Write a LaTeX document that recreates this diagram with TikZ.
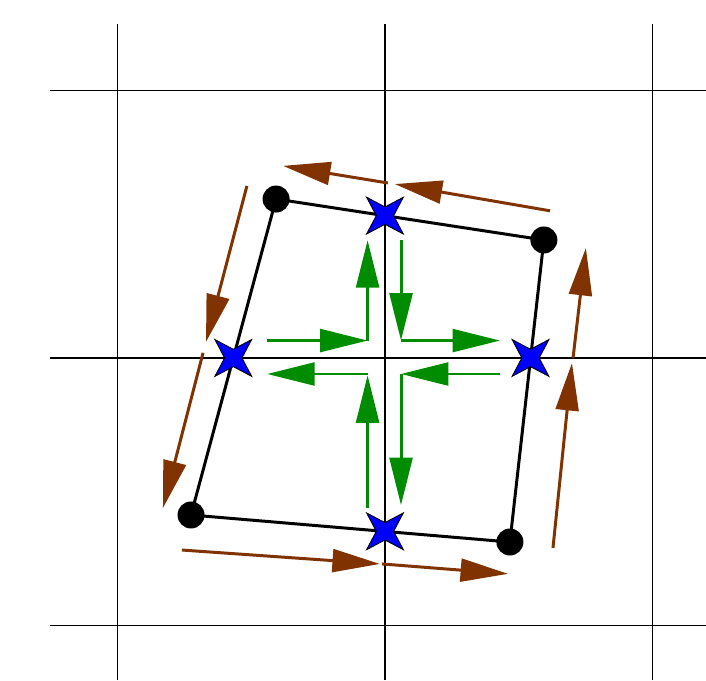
\documentclass[tikz,border=0pt]{standalone}
\usetikzlibrary{arrows.meta}
\usetikzlibrary{calc}
\usetikzlibrary{shapes.geometric}
\usetikzlibrary{backgrounds}
\definecolor{flux}{RGB}{128,51,0}
\definecolor{grad}{RGB}{0,140,0}

\begin{document}
\begin{tikzpicture}[x=5.35cm, y=5.35cm,
        corner/.style={circle, fill=black, inner sep=0pt, minimum size=0.54cm},
        face/.style={star, star points=4, star point ratio=3, shape border rotate=45,
            fill=blue, draw=black, line width=0.5pt, inner sep=0pt, minimum size=1.04cm},
        fluxarrow/.style={flux, line width=1.7pt, -{Triangle[length=27pt, width=13pt]}},
        gradarrow/.style={grad, line width=1.7pt, -{Triangle[length=27pt, width=13pt]}}]
        \useasboundingbox (-1.439,-1.204) rectangle (1.2,1.338);
        % cell corners
        \node[corner] (tl) at (-0.407,0.594) {};
        \node[corner] (tr) at (0.594,0.441) {};
        \node[corner] (br) at (0.467,-0.688) {};
        \node[corner] (bl) at (-0.725,-0.587) {};
        % faces, where the cell edges cross the grid lines
        \node[face] (north) at (0,0.532) {};
        \node[face] (west) at (-0.567,0) {};
        \node[face] (east) at (0.544,0) {};
        \node[face] (south) at (0,-0.648) {};
        \begin{scope}[on background layer]
            % grid
            \foreach \x in {-1,0,1}
            {
                \draw[line width=0.9pt] (\x,-1.204) -- (\x,1.249);
            }
            \foreach \y in {-1,0,1}
            {
                \draw[line width=0.9pt] (-1.252,\y) -- (1.2,\y);
            }
            % cell edges
            \draw[line width=1.7pt] (tl.center) -- (tr.center) -- (br.center) -- (bl.center) -- cycle;
        \end{scope}
        % fluxes along the edges
        \foreach \a/\b in {{0.617,0.550}/{0.037,0.650}, {0.011,0.654}/{-0.381,0.718},
            {-0.516,0.643}/{-0.669,0.060}, {-0.680,0.019}/{-0.830,-0.561},
            {-0.759,-0.718}/{-0.019,-0.770}, {-0.011,-0.770}/{0.460,-0.807},
            {0.628,-0.710}/{0.699,-0.019}, {0.703,0.0}/{0.751,0.411}}
        {
            \draw[fluxarrow] (\a) -- (\b);
        }
        % gradients inside the cell
        \foreach \a/\b in {{-0.44,0.065}/{-0.065,0.065}, {-0.065,0.065}/{-0.065,0.44},
            {0.06,0.44}/{0.06,0.065}, {0.06,0.065}/{0.43,0.065},
            {-0.065,-0.06}/{-0.44,-0.06}, {-0.065,-0.56}/{-0.065,-0.065},
            {0.43,-0.06}/{0.06,-0.06}, {0.06,-0.06}/{0.06,-0.55}}
        {
            \draw[gradarrow] (\a) -- (\b);
        }
    \end{tikzpicture}
\end{document}
